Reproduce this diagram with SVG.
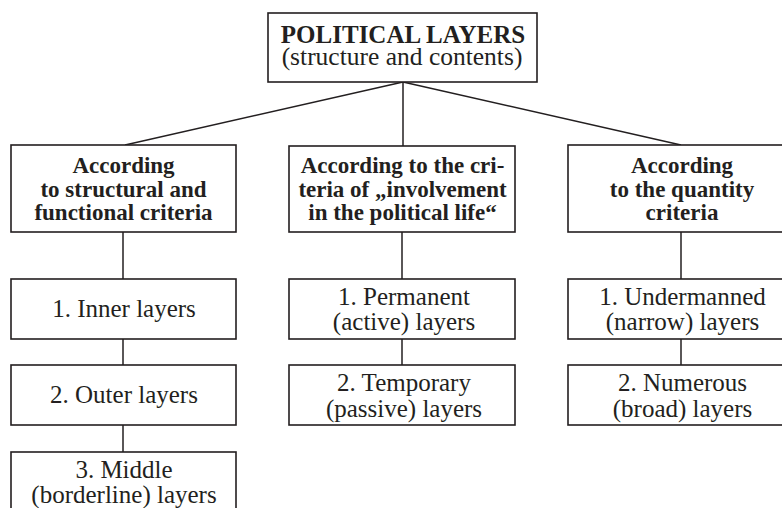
<svg xmlns="http://www.w3.org/2000/svg" width="782" height="508" viewBox="0 0 782 508">
<style>
rect.box{fill:#fff;stroke:#231f20;stroke-width:1.6}
.conn line{stroke:#231f20;stroke-width:1.5}
text{font-family:'Liberation Serif',Tinos,'Times New Roman',Times,'Noto Serif','DejaVu Serif',serif;fill:#231f20;text-anchor:middle}
.t{font-size:25px}
.b{font-size:23px;font-weight:bold}
.h{font-size:25px;font-weight:bold}
.s{font-size:25.5px}
</style>
<rect width="782" height="508" fill="#fff"/>
<g class="conn">
<line x1="403" y1="82" x2="125" y2="145"/>
<line x1="403" y1="82" x2="403" y2="146"/>
<line x1="403" y1="82" x2="681" y2="145"/>
<line x1="123" y1="232" x2="123" y2="279"/>
<line x1="123" y1="339" x2="123" y2="365"/>
<line x1="123" y1="425" x2="123" y2="452"/>
<line x1="402" y1="232" x2="402" y2="279"/>
<line x1="402" y1="339" x2="402" y2="365"/>
<line x1="681" y1="232" x2="681" y2="279"/>
<line x1="681" y1="339" x2="681" y2="365"/>
</g>
<g id="root">
<rect class="box" x="268" y="13" width="269" height="69"/>
<text class="h" x="403" y="43">POLITICAL LAYERS</text>
<text class="s" x="402" y="64.5">(structure and contents)</text>
</g>
<g id="cat1">
<rect class="box" x="11" y="145" width="225" height="87"/>
<text class="b" x="123.5" y="173">According</text>
<text class="b" x="123.5" y="196.5">to structural and</text>
<text class="b" x="123.5" y="220">functional criteria</text>
</g>
<g id="cat2">
<rect class="box" x="289" y="146" width="226" height="86"/>
<text class="b" x="402.5" y="173">According to the cri-</text>
<text class="b" x="402.5" y="196.5">teria of „involvement</text>
<text class="b" x="402.5" y="220">in the political life“</text>
</g>
<g id="cat3">
<rect class="box" x="568" y="145" width="228" height="87"/>
<text class="b" x="682" y="173">According</text>
<text class="b" x="682" y="196.5">to the quantity</text>
<text class="b" x="682" y="220">criteria</text>
</g>
<g id="l1">
<rect class="box" x="11" y="279" width="225" height="60"/>
<text class="t" x="124" y="317">1. Inner layers</text>
</g>
<g id="l2">
<rect class="box" x="11" y="365" width="225" height="60"/>
<text class="t" x="124" y="403">2. Outer layers</text>
</g>
<g id="l3">
<rect class="box" x="11" y="452" width="225" height="80"/>
<text class="t" x="124" y="478">3. Middle</text>
<text class="t" x="124" y="503">(borderline) layers</text>
</g>
<g id="m1">
<rect class="box" x="289" y="279" width="226" height="60"/>
<text class="t" x="404" y="305">1. Permanent</text>
<text class="t" x="404" y="330">(active) layers</text>
</g>
<g id="m2">
<rect class="box" x="289" y="365" width="226" height="60"/>
<text class="t" x="404" y="391">2. Temporary</text>
<text class="t" x="404" y="417">(passive) layers</text>
</g>
<g id="r1">
<rect class="box" x="568" y="279" width="228" height="60"/>
<text class="t" x="682.5" y="305">1. Undermanned</text>
<text class="t" x="682.5" y="330">(narrow) layers</text>
</g>
<g id="r2">
<rect class="box" x="568" y="365" width="228" height="60"/>
<text class="t" x="682.5" y="391">2. Numerous</text>
<text class="t" x="682.5" y="417">(broad) layers</text>
</g>
</svg>
